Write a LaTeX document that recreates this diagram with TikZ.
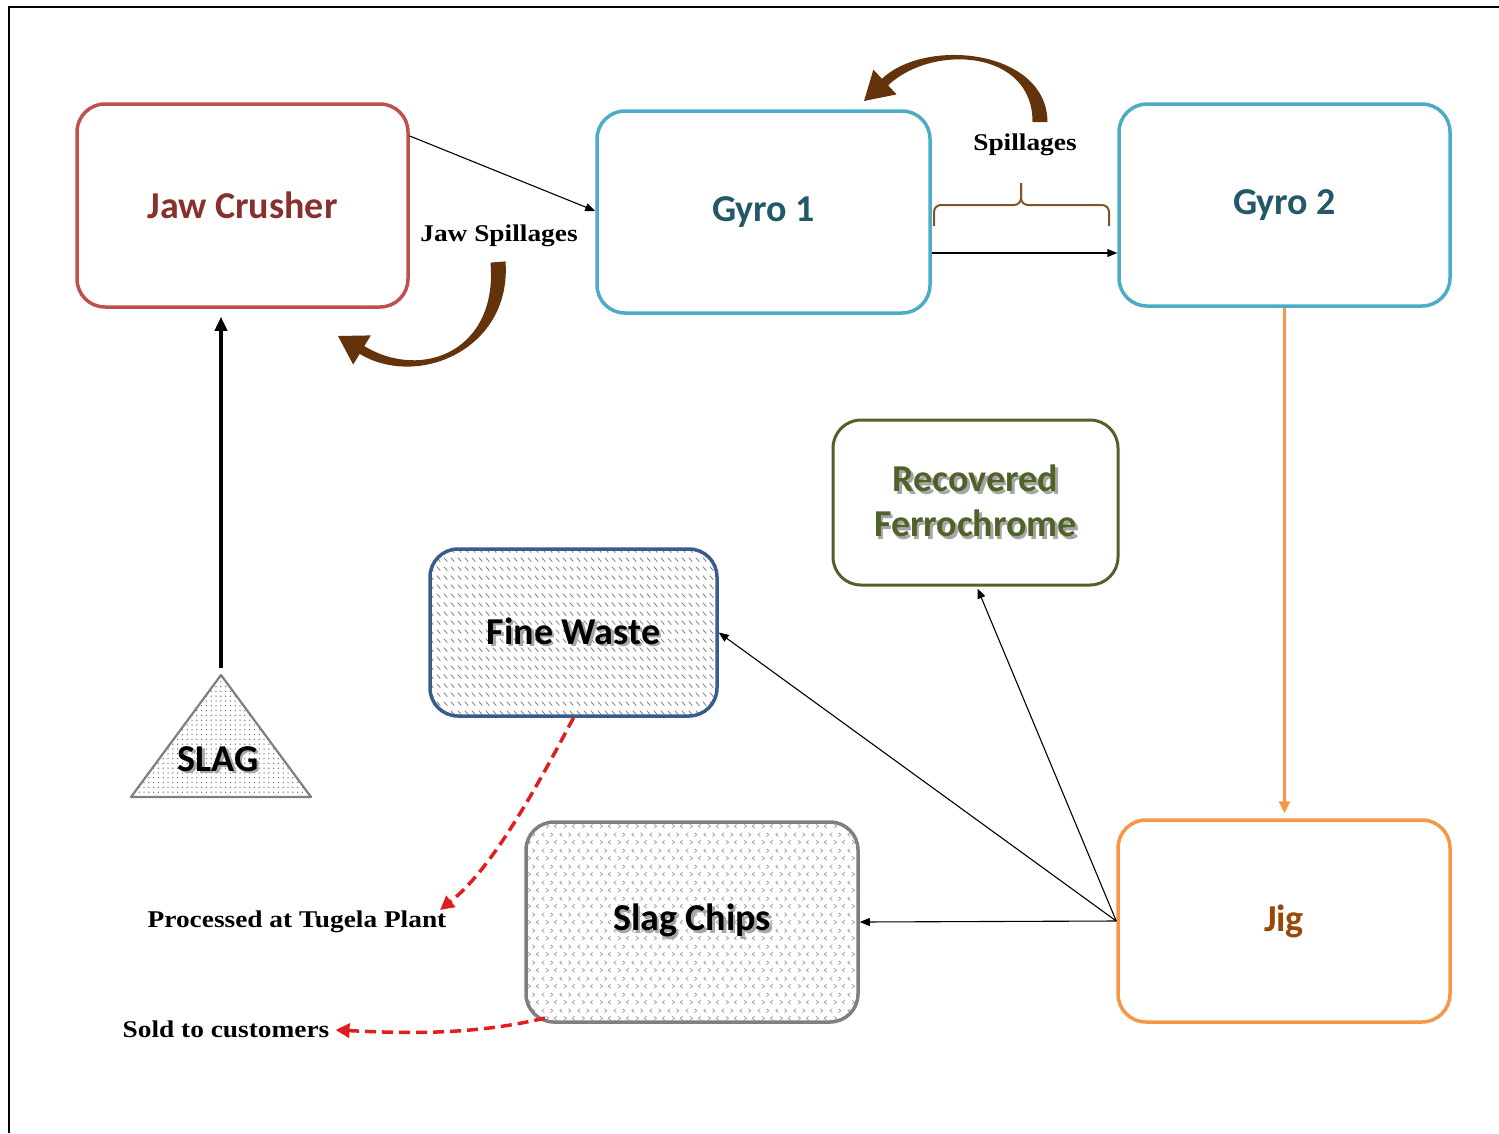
\documentclass[tikz,border=0pt]{standalone}
\usepackage{fontspec}
\setmainfont{Carlito}
\newfontfamily\labelserif[FakeStretch=1.14]{Liberation Serif}
\usetikzlibrary{arrows.meta,patterns.meta,calc}

\definecolor{jawline}{RGB}{192,80,77}
\definecolor{jawtext}{RGB}{135,48,46}
\definecolor{gyroline}{RGB}{75,172,198}
\definecolor{gyrotext}{RGB}{33,89,104}
\definecolor{recline}{RGB}{79,98,40}
\definecolor{rectext}{RGB}{79,98,40}
\definecolor{fineline}{RGB}{56,93,138}
\definecolor{chipline}{RGB}{127,127,127}
\definecolor{jigline}{RGB}{247,150,70}
\definecolor{jigtext}{RGB}{152,72,7}
\definecolor{spillbrown}{RGB}{99,52,12}
\definecolor{bracebrown}{RGB}{128,84,44}
\definecolor{outred}{RGB}{224,30,30}

% short backslash strokes in rows
\tikzdeclarepattern{
  name=backslashes,
  type=uncolored,
  bounding box={(0pt,0pt) and (6.5pt,8.5pt)},
  tile size={(6.5pt,8.5pt)},
  code={
    \draw[line width=0.9pt] (0.8pt,6.8pt) -- (4.6pt,2.6pt);
  }
}
% alternating small chevrons
\tikzdeclarepattern{
  name=chevrons,
  type=uncolored,
  bounding box={(0pt,0pt) and (18pt,16pt)},
  tile size={(18pt,16pt)},
  code={
    \draw[line width=0.6pt] (4.5pt,14pt) -- (2pt,12pt) -- (4.5pt,10pt);
    \draw[line width=0.6pt] (11pt,14pt) -- (13.5pt,12pt) -- (11pt,10pt);
    \draw[line width=0.6pt] (6.5pt,6pt) -- (9pt,4pt) -- (6.5pt,2pt);
    \draw[line width=0.6pt] (17.5pt,6pt) -- (15pt,4pt) -- (17.5pt,2pt);
  }
}

\newcommand\shadowed[1]{\makebox[0pt][l]{\hspace{2.5pt}\raisebox{-2.5pt}{\color{black!35}#1}}#1}

\tikzset{
  stage/.style={draw, rounded corners=28pt, line width=3.5pt, align=center,
    font=\fontsize{38}{45}\selectfont\bfseries, inner sep=0pt},
  flow/.style={-{Triangle[length=10pt,width=8pt]}, line width=1.1pt},
  outflow/.style={outred, line width=3.5pt, dash pattern=on 11pt off 6pt,
    -{Triangle[length=14pt,width=14pt]}},
  note/.style={font=\labelserif\fontsize{24}{26}\selectfont\bfseries, inner sep=0pt},
}

\begin{document}
\begin{tikzpicture}[x=1pt,y=-1pt]
\useasboundingbox (0,0) rectangle (1499,1133);

% frame
\draw[line width=2.5pt] (9,1133) -- (9,7) -- (1499,7);

% process stages
\node[stage, draw=jawline, text=jawtext, minimum width=331pt, minimum height=203pt]
  (jaw) at (242.5,205.5) {Jaw Crusher};
\node[stage, draw=gyroline, text=gyrotext, minimum width=333pt, minimum height=202pt]
  (gyro1) at (763.5,212) {Gyro 1};
\node[stage, draw=gyroline, text=gyrotext, minimum width=331pt, minimum height=202pt]
  (gyro2) at (1284.5,205) {Gyro 2};
\node[stage, draw=recline, line width=3pt, text=rectext, minimum width=285pt, minimum height=165pt]
  (rec) at (975.5,502.5) {\shadowed{Recovered}\\\shadowed{Ferrochrome}};
\node[stage, draw=fineline, pattern={backslashes}, pattern color=black!50,
  minimum width=287pt, minimum height=167pt]
  (fine) at (573.5,632.5) {\shadowed{Fine Waste}};
\node[stage, draw=chipline, pattern={chevrons}, pattern color=black!45,
  minimum width=332pt, minimum height=200pt]
  (chips) at (692,922) {\shadowed{Slag Chips}};
\node[stage, draw=jigline, text=jigtext, minimum width=332pt, minimum height=202pt]
  (jig) at (1284,921) {Jig};

% slag heap
\fill[pattern={Dots[distance=4.8pt,radius=0.75pt]}, pattern color=black!55]
  (221,675) -- (311,797) -- (131,797) -- cycle;
\draw[chipline, line width=2.2pt, line join=round]
  (221,675) -- (311,797) -- (131,797) -- cycle;
\node[font=\fontsize{38}{40}\selectfont\bfseries, inner sep=0pt] (slag) at (218,760) {\shadowed{SLAG}};
\coordinate (slagtop) at (221,668);

% feed
\draw[line width=4pt, -{Triangle[length=14pt,width=12pt]}, shorten >=8pt]
  (slagtop) -- (slagtop |- jaw.south);

% crushing line
\draw[flow] ($(jaw.east)+(0,-69.5)$) -- ($(gyro1.west)+(0,-1)$);
\coordinate (gyroout) at ($(gyro1.east)+(0,41)$);
\draw[flow] (gyroout) -- (gyroout -| gyro2.west);
\draw[jigline, line width=3.5pt, -{Triangle[length=12pt,width=11pt]}, shorten >=5pt]
  (gyro2.south) -- (gyro2.south |- jig.north);

% jig products
\draw[flow] (jig.west) -- (chips.east);
\draw[flow] (jig.west) -- (fine.east);
\draw[flow] (jig.west) -- ($(rec.south)+(2,2)$);

% spillages: tapered return arrows
\node[note] (jawspill) at (499,236) {Jaw Spillages};
\fill[spillbrown] (505.5,261.4) .. controls (512,349.4) and (417.7,388.9) .. (359.7,353.9)
  -- (353.2,364.6) -- (338,336) -- (370.8,335.4) -- (364.3,346.1)
  .. controls (422.3,381.1) and (498,350.6) .. (490.5,262.6) -- cycle;

\node[note] (gyrospill) at (1025,145) {Spillages};
\fill[spillbrown] (1047.5,122) .. controls (1047,50) and (926.9,36.7) .. (881.9,78.7)
  -- (873.4,69.6) -- (864,101) -- (896.6,94.4) -- (888.1,85.3)
  .. controls (933.1,43.3) and (1033,50) .. (1032.5,122) -- cycle;

% brace under the spillage label
\draw[bracebrown, line width=2pt, rounded corners=7pt]
  (934,226) -- (934,205) -- (1021,205) -- (1021,183);
\draw[bracebrown, line width=2pt, rounded corners=7pt]
  (1109,226) -- (1109,205) -- (1021,205) -- (1021,183);

% outputs
\node[note] (tugela) at (297,922) {Processed at Tugela Plant};
\node[note] (sold) at (226,1029) {Sold to customers};
\coordinate (tugelaIn) at (440,910);
\coordinate (chipsOut) at (545,1018);
\draw[outflow] (fine.south) .. controls (530,800) and (490,870) .. (tugelaIn);
\draw[outflow] (chipsOut) .. controls (470,1036) and (400,1033) .. ($(sold.east)+(6,1)$);
\end{tikzpicture}
\end{document}
